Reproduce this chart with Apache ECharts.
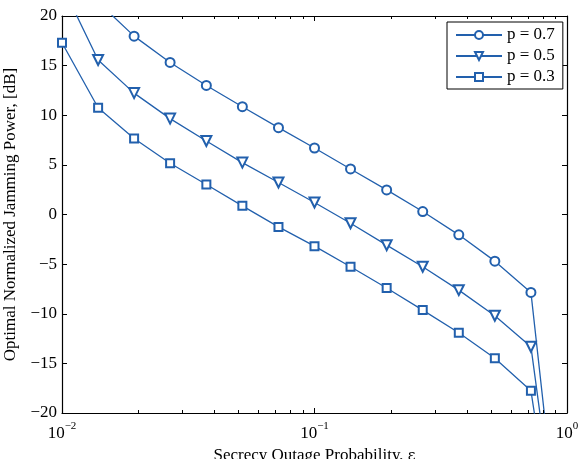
<!DOCTYPE html>
<html>
<head>
<meta charset="utf-8">
<script src="https://cdn.jsdelivr.net/npm/echarts@6/dist/echarts.min.js"></script>
<style>
  html, body { margin: 0; padding: 0; background: #fff; }
  #chart { width: 581px; height: 459px; }
</style>
</head>
<body>
<div id="chart"></div>
<script>
// Secrecy outage probability (log scale) sampled points
const epsilon = [0.0100, 0.0139, 0.0193, 0.0268, 0.0373, 0.0518, 0.0720,
                 0.1000, 0.1389, 0.1931, 0.2683, 0.3728, 0.5179, 0.7197, 1.0000];

// Optimal normalized jamming power in dB for each p
const powerP07 = [28.5, 21.4, 17.97, 15.32, 13.0, 10.86, 8.75, 6.70, 4.59, 2.48, 0.30, -2.05, -4.70, -7.85, -40.7];
const powerP05 = [23.1, 15.57, 12.23, 9.66, 7.40, 5.23, 3.22, 1.21, -0.88, -3.09, -5.27, -7.62, -10.2, -13.32, -40.2];
const powerP03 = [17.3, 10.76, 7.65, 5.16, 3.02, 0.87, -1.25, -3.19, -5.27, -7.41, -9.63, -11.91, -14.49, -17.75, -41.5];

const seriesNames = ['p = 0.7', 'p = 0.5', 'p = 0.3'];

// Minor tick positions on the log axis (2..9 within each decade)
const minorTicks = [0.02, 0.03, 0.04, 0.05, 0.06, 0.07, 0.08, 0.09,
                    0.2, 0.3, 0.4, 0.5, 0.6, 0.7, 0.8, 0.9];

const xLabelExponent = { 0.01: '−2', 0.1: '−1', 1: '0' };

const FONT = 'Liberation Serif';
const BLUE = '#2260ad';
const pair = (xs, ys) => xs.map((x, i) => [x, ys[i]]);

const chart = echarts.init(document.getElementById('chart'), null, { renderer: 'canvas' });

const lineSeries = (name, values, symbol, size, rotate) => ({
  name: name,
  type: 'line',
  xAxisIndex: 0,
  yAxisIndex: 0,
  data: pair(epsilon, values),
  symbol: symbol,
  symbolSize: size,
  symbolRotate: rotate || 0,
  clip: true,
  color: BLUE,
  lineStyle: { color: BLUE, width: 1.3 },
  itemStyle: { color: BLUE, borderColor: BLUE, borderWidth: 1.2 },
  emphasis: { disabled: true },
  z: 3
});

const option = {
  backgroundColor: '#fff',
  animation: false,
  textStyle: { fontFamily: FONT },
  grid: { left: 62, right: 14, top: 16, bottom: 46, outerBoundsMode: 'none', containLabel: false },
  legend: {
    data: seriesNames,
    left: 447, top: 22,
    orient: 'vertical',
    padding: [3, 8, 2, 8],
    itemGap: 1,
    itemWidth: 46,
    itemHeight: 10,
    backgroundColor: '#fff',
    borderColor: '#000',
    borderWidth: 1,
    borderRadius: 0,
    selectedMode: false,
    textStyle: { fontFamily: FONT, fontSize: 17, color: '#000', lineHeight: 20 }
  },
  xAxis: [
    {
      type: 'log', logBase: 10, min: 0.01, max: 1,
      position: 'bottom',
      name: 'Secrecy Outage Probability, {g|ε}',
      nameLocation: 'middle', nameGap: 32,
      nameTextStyle: {
        fontFamily: FONT, fontSize: 17, color: '#000',
        rich: { g: { fontFamily: 'DejaVu Serif', fontSize: 15, color: '#000' } }
      },
      axisLine: { show: true, onZero: false, lineStyle: { color: '#000', width: 1.2 } },
      axisTick: { show: true, inside: true, length: 5, lineStyle: { color: '#000', width: 1 } },
      splitLine: { show: false },
      axisLabel: {
        margin: 8,
        formatter: v => '{m|10}{e|' + (xLabelExponent[+v.toPrecision(3)] ?? '') + '}',
        rich: {
          m: { fontFamily: FONT, fontSize: 17, color: '#000', lineHeight: 26 },
          e: { fontFamily: FONT, fontSize: 11, color: '#000', lineHeight: 8, verticalAlign: 'top' }
        }
      }
    },
    {
      type: 'log', logBase: 10, min: 0.01, max: 1,
      position: 'top',
      axisLine: { show: true, onZero: false, lineStyle: { color: '#000', width: 1.2 } },
      axisTick: { show: true, inside: true, length: 5, lineStyle: { color: '#000', width: 1 } },
      axisLabel: { show: false },
      splitLine: { show: false }
    }
  ],
  yAxis: [
    {
      type: 'value', min: -20, max: 20, interval: 5,
      position: 'left',
      name: 'Optimal Normalized Jamming Power, [dB]',
      nameLocation: 'middle', nameGap: 38,
      nameTextStyle: { fontFamily: FONT, fontSize: 17, color: '#000' },
      axisLine: { show: true, onZero: false, lineStyle: { color: '#000', width: 1.2 } },
      axisTick: { show: true, inside: true, length: 5, lineStyle: { color: '#000', width: 1 } },
      splitLine: { show: false },
      axisLabel: {
        margin: 5,
        fontFamily: FONT, fontSize: 17, color: '#000',
        formatter: v => String(v).replace('-', '−')
      }
    },
    {
      type: 'value', min: -20, max: 20, interval: 5,
      position: 'right',
      axisLine: { show: true, onZero: false, lineStyle: { color: '#000', width: 1.2 } },
      axisTick: { show: true, inside: true, length: 5, lineStyle: { color: '#000', width: 1 } },
      axisLabel: { show: false },
      splitLine: { show: false }
    }
  ],
  series: [
    lineSeries(seriesNames[0], powerP07, 'emptyCircle', 9),
    lineSeries(seriesNames[1], powerP05, 'emptyTriangle', 10, 180),
    lineSeries(seriesNames[2], powerP03, 'emptyRect', 8),
    {
      // minor ticks of the log axis, drawn on the bottom and top frame
      type: 'custom',
      xAxisIndex: 0,
      yAxisIndex: 0,
      silent: true,
      clip: false,
      z: 5,
      data: minorTicks.map(v => [v, -20]),
      renderItem: (params, api) => {
        const cs = params.coordSys;
        const x = Math.round(api.coord([api.value(0), -20])[0]) + 0.5;
        const yb = cs.y + cs.height;
        const yt = cs.y;
        return {
          type: 'group',
          children: [
            { type: 'line', shape: { x1: x, y1: yb, x2: x, y2: yb - 3 }, style: { stroke: '#000', lineWidth: 1 } },
            { type: 'line', shape: { x1: x, y1: yt, x2: x, y2: yt + 3 }, style: { stroke: '#000', lineWidth: 1 } }
          ]
        };
      }
    }
  ]
};

chart.setOption(option);
</script>
</body>
</html>
